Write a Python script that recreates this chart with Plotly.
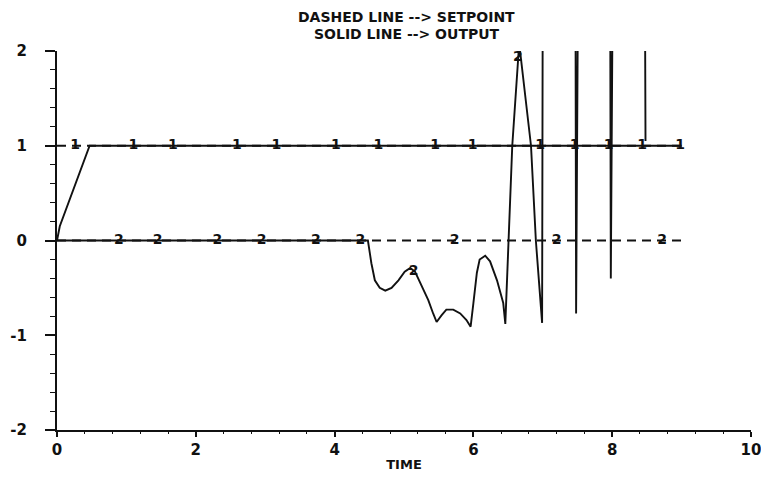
import plotly.graph_objects as go

# ---- data ----
setpoint_t = [0.0, 9.0]
setpoint_1 = [1.0, 1.0]
setpoint_2 = [0.0, 0.0]

output1_t = [0.0, 0.04, 0.47, 9.0]
output1_y = [0.0, 0.15, 1.0, 1.0]

output2_t = [0.0, 4.48, 4.53, 4.58, 4.65, 4.73, 4.82, 4.92, 5.01, 5.09, 5.16, 5.25,
             5.35, 5.42, 5.47, 5.54, 5.61, 5.71, 5.81, 5.90, 5.96, 6.00, 6.05, 6.09,
             6.17, 6.24, 6.34, 6.43, 6.46, 6.56, 6.66, 6.83, 6.90, 6.99, 7.00, 7.47,
             7.48, 7.51, 7.97, 7.98, 8.01, 8.47, 8.48]
output2_y = [0.0, 0.0, -0.24, -0.42, -0.50, -0.53, -0.50, -0.42, -0.33, -0.29, -0.33, -0.47,
             -0.63, -0.77, -0.86, -0.79, -0.73, -0.73, -0.77, -0.84, -0.91, -0.66, -0.34, -0.20,
             -0.16, -0.22, -0.42, -0.66, -0.88, 1.00, 2.08, 1.00, 0.00, -0.87, 3.00, 3.00,
             -0.77, 3.00, 3.00, -0.40, 3.00, 3.00, 1.05]

label1_t = [0.26, 1.10, 1.67, 2.59, 3.16, 4.02, 4.63, 5.45, 5.99, 6.96, 7.46, 7.95, 8.43, 8.98]
label1_y = [1, 1, 1, 1, 1, 1, 1, 1, 1, 1, 1, 1, 1, 1]

label2_t = [0.89, 1.45, 2.31, 2.95, 3.73, 4.37, 5.14, 5.73, 6.64, 7.20, 8.72]
label2_y = [0, 0, 0, 0, 0, 0, -0.33, 0, 1.93, 0, 0]

x_ticks = [0, 2, 4, 6, 8, 10]
y_ticks = [-2, -1, 0, 1, 2]

title_lines = ["DASHED LINE --> SETPOINT", "SOLID LINE --> OUTPUT"]

FONT = "DejaVu Sans, sans-serif"
INK = "#111111"

fig = go.Figure()

# setpoints (dashed)
fig.add_trace(go.Scatter(x=setpoint_t, y=setpoint_1, mode="lines",
                         line=dict(color=INK, width=1.9, dash="9px,6px"),
                         showlegend=False, hoverinfo="skip"))
fig.add_trace(go.Scatter(x=setpoint_t, y=setpoint_2, mode="lines",
                         line=dict(color=INK, width=1.9, dash="9px,6px"),
                         showlegend=False, hoverinfo="skip"))

# outputs (solid)
fig.add_trace(go.Scatter(x=output1_t, y=output1_y, mode="lines",
                         line=dict(color=INK, width=1.9),
                         showlegend=False, hoverinfo="skip"))
fig.add_trace(go.Scatter(x=output2_t, y=output2_y, mode="lines",
                         line=dict(color=INK, width=1.9),
                         showlegend=False, hoverinfo="skip"))

# curve labels drawn on the lines
fig.add_trace(go.Scatter(x=label1_t, y=label1_y, mode="text", text=["1"] * len(label1_t),
                         textposition="middle center",
                         textfont=dict(family=FONT, size=14, color=INK, weight="bold"),
                         showlegend=False, hoverinfo="skip", cliponaxis=False))
fig.add_trace(go.Scatter(x=label2_t, y=label2_y, mode="text", text=["2"] * len(label2_t),
                         textposition="middle center",
                         textfont=dict(family=FONT, size=14, color=INK, weight="bold"),
                         showlegend=False, hoverinfo="skip", cliponaxis=False))

fig.update_layout(
    width=761, height=482,
    margin=dict(l=57, r=10, t=51, b=52, autoexpand=False),
    paper_bgcolor="white", plot_bgcolor="white",
    font=dict(family=FONT, size=14, color=INK, weight="bold"),
    showlegend=False,
    annotations=[
        dict(text=title_lines[0], xref="paper", yref="paper", x=0.504, y=1.091,
             xanchor="center", yanchor="middle", showarrow=False,
             font=dict(family=FONT, size=14, color=INK, weight="bold")),
        dict(text=title_lines[1], xref="paper", yref="paper", x=0.504, y=1.046,
             xanchor="center", yanchor="middle", showarrow=False,
             font=dict(family=FONT, size=14, color=INK, weight="bold")),
    ],
)

fig.update_xaxes(
    range=[0, 10], tickvals=x_ticks, ticktext=[str(v) for v in x_ticks],
    automargin=False, ticklabeloverflow="allow",
    showline=True, linecolor=INK, linewidth=2, mirror=False,
    ticks="outside", ticklen=5, tickwidth=1.5, tickcolor=INK,
    minor=dict(dtick=0.4, ticks="outside", ticklen=2, tickwidth=1, tickcolor=INK),
    showgrid=False, zeroline=False,
    tickfont=dict(family=FONT, size=15, color=INK, weight="bold"),
    title=dict(text="TIME", standoff=2,
               font=dict(family=FONT, size=13, color=INK, weight="bold")),
)
fig.update_yaxes(
    range=[-2, 2], tickvals=y_ticks, ticktext=[str(v) for v in y_ticks],
    automargin=False, ticklabeloverflow="allow",
    showline=True, linecolor=INK, linewidth=2, mirror=False,
    ticks="outside", ticklen=10, tickwidth=1.5, tickcolor=INK,
    minor=dict(dtick=0.2, ticks="outside", ticklen=5, tickwidth=1, tickcolor=INK),
    showgrid=False, zeroline=False,
    ticklabelstandoff=15,
    tickfont=dict(family=FONT, size=15, color=INK, weight="bold"),
)

# remove the page's default body margin so the 761x482 figure fills the window exactly
fig.write_html("out.html", config={"displayModeBar": False},
               post_script="document.body.style.margin='0';")
